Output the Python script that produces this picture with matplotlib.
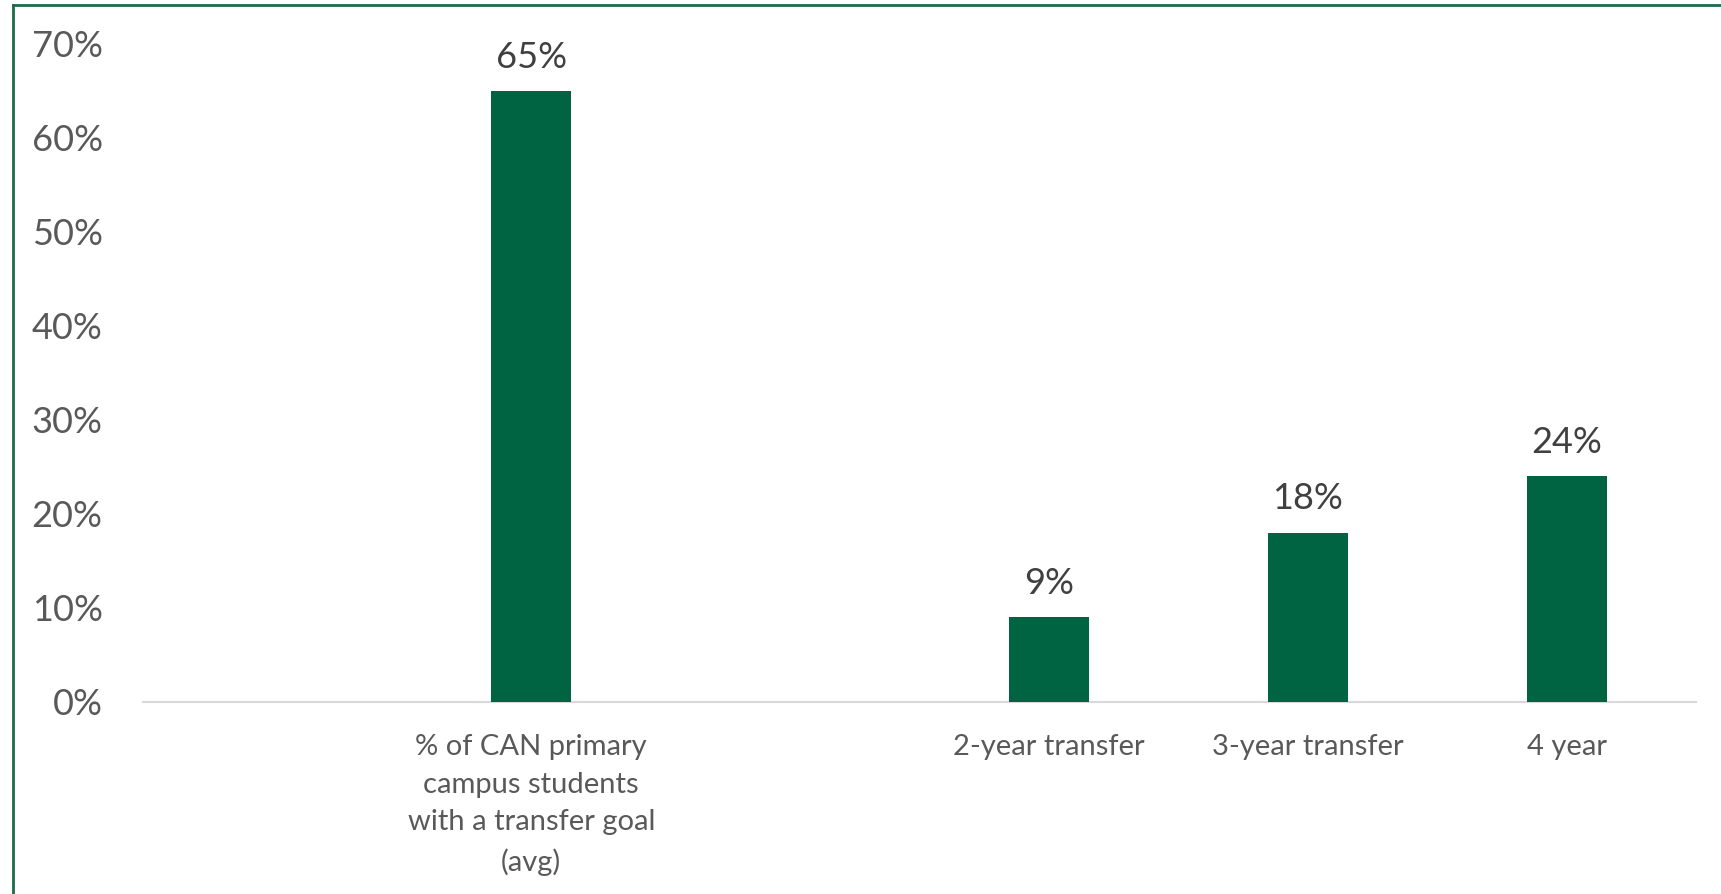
import matplotlib.pyplot as plt
from matplotlib.lines import Line2D

# categories (empty slots keep the gaps like in the original)
categories = ['', '% of CAN primary\ncampus students\nwith a transfer goal\n(avg)', '',
              '2-year transfer', '3-year transfer', '4 year']
values = [None, 0.65, None, 0.09, 0.18, 0.24]
yticks = [0, 0.1, 0.2, 0.3, 0.4, 0.5, 0.6, 0.7]

plt.rcParams['font.family'] = ['Lato', 'DejaVu Sans']

fig = plt.figure(figsize=(17.21, 8.94), dpi=100)
ax = fig.add_axes([0.0831, 0.2148, 0.9024, 0.736])

xs = [i for i, v in enumerate(values) if v is not None]
vals = [v for v in values if v is not None]
bars = ax.bar(xs, vals, width=0.31, color='#006341', zorder=3)

# data labels
for x, v in zip(xs, vals):
    ax.annotate(f'{v:.0%}', (x, v), xytext=(0, 12.5), textcoords='offset points',
                ha='center', va='bottom', fontsize=26, color='#404040')

ax.set_xlim(-0.5, len(categories) - 0.5)
ax.set_ylim(0, 0.7)
ax.set_yticks(yticks)
ax.set_yticklabels([f'{t:.0%}' for t in yticks])
ax.set_xticks(range(len(categories)))
ax.set_xticklabels(categories, linespacing=1.56)

ax.tick_params(axis='y', length=0, pad=29, labelsize=26, labelcolor='#595959')
ax.tick_params(axis='x', length=0, pad=23, labelsize=21, labelcolor='#595959')

for s in ['top', 'right', 'left']:
    ax.spines[s].set_visible(False)
ax.spines['bottom'].set_color('#d9d9d9')
ax.spines['bottom'].set_linewidth(1.5)

# green frame (top and left edges visible)
fig.add_artist(Line2D([0.0076, 1.0], [0.9944, 0.9944], color='#1d6b4c', lw=2))
fig.add_artist(Line2D([0.0076, 0.0076], [0.0, 0.9944], color='#1d6b4c', lw=2))

fig.savefig('out.png', dpi=100)
